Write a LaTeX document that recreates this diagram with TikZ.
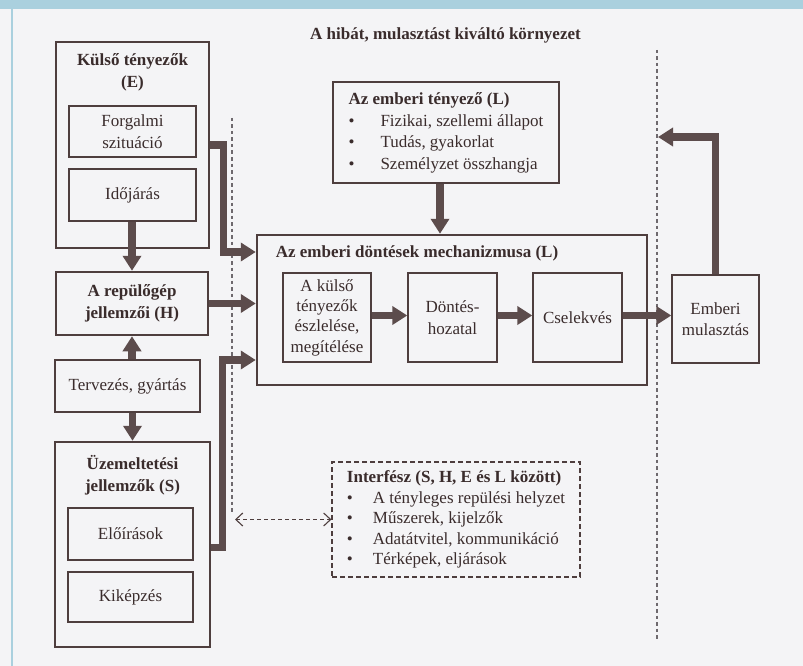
\documentclass[tikz,border=0pt]{standalone}
\usepackage{fontspec}
\setmainfont{Liberation Serif}
\usetikzlibrary{arrows.meta}
\definecolor{keret}{RGB}{78,62,62}
\definecolor{nyil}{RGB}{92,76,76}
\definecolor{betu}{RGB}{58,44,44}
\definecolor{papir}{RGB}{244,244,246}
\definecolor{csik}{RGB}{170,208,222}
\definecolor{pont}{RGB}{110,105,110}
\tikzset{
  nagydoboz/.style={draw=keret,line width=2.5pt,text=betu,align=center,inner sep=0pt},
  kisdoboz/.style={draw=keret,line width=1.4pt,text=betu,align=center,inner sep=0pt},
  folyam/.style={draw=nyil,line width=7.5pt,line join=miter,-{Triangle[length=15pt,width=18pt]}},
  hatar/.style={draw=pont,line width=1.1pt,dash pattern=on 3.5pt off 3pt},
  felirat/.style={text=betu,align=center,font=\fontsize{17}{21.5}\selectfont\bfseries},
}
\begin{document}
\begin{tikzpicture}[x=1pt,y=-1pt,font=\fontsize{17}{21.5}\selectfont]
  \useasboundingbox (0,0) rectangle (803,666);
  \fill[papir] (0,0) rectangle (803,666);
  \fill[csik] (0,0) rectangle (803,9);
  \draw[csik,line width=1.5pt] (12,9) -- (12,666);

  \node[felirat] (cim) at (445.5,35) {A hibát, mulasztást kiváltó környezet};

  \node[nagydoboz,minimum width=153pt,minimum height=206pt] (E) at (132.5,145) {};
  \node[felirat] (Ecim) at (132.5,72.5) {Külső tényezők\\(E)};
  \node[kisdoboz,minimum width=127pt,minimum height=51pt] (forg) at (132.5,131.5) {Forgalmi\\szituáció};
  \node[kisdoboz,minimum width=127pt,minimum height=52pt] (idoj) at (132.5,195) {Időjárás};

  \node[nagydoboz,minimum width=152pt,minimum height=63pt,font=\fontsize{17}{21.5}\selectfont\bfseries] (H) at (132,303.5) {A repülőgép\\jellemzői (H)};
  \node[kisdoboz,minimum width=145pt,minimum height=52pt] (terv) at (127.5,386) {Tervezés, gyártás};

  \node[nagydoboz,minimum width=155pt,minimum height=205pt] (S) at (132.5,544.5) {};
  \node[felirat] (Scim) at (132.5,475) {Üzemeltetési\\jellemzők (S)};
  \node[kisdoboz,minimum width=125pt,minimum height=52pt] (eloir) at (130.5,534) {Előírások};
  \node[kisdoboz,minimum width=125pt,minimum height=50pt] (kikep) at (130.5,597) {Kiképzés};

  \node[nagydoboz,minimum width=226pt,minimum height=101pt] (L) at (446,132.5) {%
    \begin{tabular}{@{}l@{\hspace{26pt}}l@{}}
      \multicolumn{2}{@{}l@{}}{\bfseries Az emberi tényező (L)}\\
      \textbullet & Fizikai, szellemi állapot\\
      \textbullet & Tudás, gyakorlat\\
      \textbullet & Személyzet összhangja
    \end{tabular}};

  \node[nagydoboz,minimum width=390pt,minimum height=150pt] (mech) at (452,310) {};
  \node[felirat] (mechcim) at (417,253) {Az emberi döntések mechanizmusa (L)};
  \node[kisdoboz,minimum width=88pt,minimum height=89pt,font=\fontsize{17}{20.3}\selectfont] (eszl) at (327,317.5) {A külső\\tényezők\\észlelése,\\megítélése};
  \node[kisdoboz,minimum width=89pt,minimum height=89pt] (dont) at (452.5,317.5) {Döntés-\\hozatal};
  \node[kisdoboz,minimum width=89pt,minimum height=89pt] (csel) at (577.5,317.5) {Cselekvés};
  \node[kisdoboz,minimum width=87pt,minimum height=88pt] (mul) at (715.5,319) {Emberi\\mulasztás};

  \node[draw=keret,line width=1.1pt,dash pattern=on 5pt off 3pt,text=betu,inner sep=0pt,
        minimum width=248pt,minimum height=115pt] (intf) at (456,519.5) {%
    \begin{tabular}{@{}l@{\hspace{20pt}}l@{}}
      \multicolumn{2}{@{}l@{}}{\bfseries Interfész (S, H, E és L között)}\\[-1pt]
      \textbullet & A tényleges repülési helyzet\\[-1pt]
      \textbullet & Műszerek, kijelzők\\[-1pt]
      \textbullet & Adatátvitel, kommunikáció\\[-1pt]
      \textbullet & Térképek, eljárások
    \end{tabular}};

  \coordinate (bfent) at (232,118);
  \coordinate (blent) at (232,512);
  \coordinate (jfent) at (657,50);
  \coordinate (jlent) at (657,640);
  \coordinate (vissza) at (658,137);
  \coordinate (bal) at (235,519.5);
  \draw[hatar] (bfent) -- (blent);
  \draw[hatar] (jfent) -- (jlent);

  \draw[folyam] (idoj.south -| H.north) -- (H.north);
  \draw[folyam] (terv.north -| H.south) -- (H.south);
  \draw[folyam] (terv.south -| S.north) -- (S.north);
  \draw[folyam] (E.east) -- ++(13,0) |- ([yshift=58pt]mech.west);
  \draw[folyam] (H.east) -- (H.east -| mech.west);
  \draw[folyam] ([yshift=-3pt]S.east) -- ++(11,0) |- ([yshift=-50pt]mech.west);
  \draw[folyam] (L.south -| 440,0) -- (mech.north -| 440,0);
  \draw[folyam] ([yshift=2pt]eszl.east) -- ([yshift=2pt]dont.west);
  \draw[folyam] ([yshift=2pt]dont.east) -- ([yshift=2pt]csel.west);
  \draw[folyam] ([yshift=2pt]csel.east) -- ([yshift=2pt]csel.east -| mul.west);
  \draw[folyam] (mul.north) |- (vissza);

  \draw[keret,line width=1.1pt,dash pattern=on 4pt off 3pt,
        {Straight Barb[length=7pt,width=13pt]}-{Straight Barb[length=7pt,width=13pt]}] (bal) -- (intf.west);
\end{tikzpicture}
\end{document}
